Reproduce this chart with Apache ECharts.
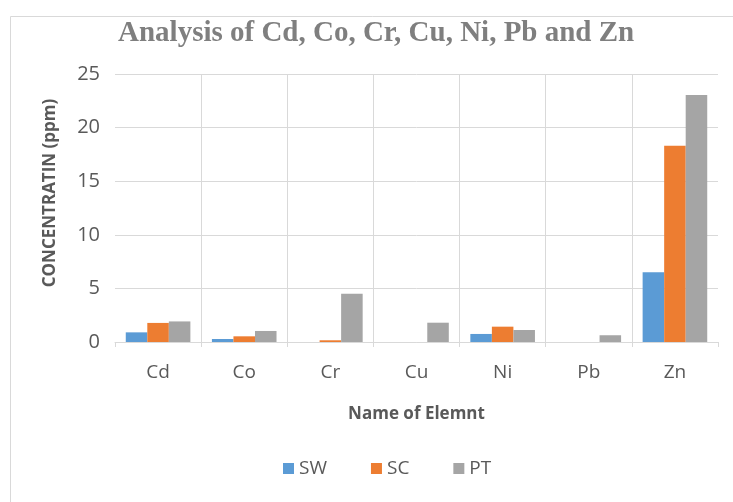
<!DOCTYPE html>
<html>
<head>
<meta charset="utf-8">
<script src="https://cdn.jsdelivr.net/npm/echarts@6/dist/echarts.min.js"></script>
<style>html,body{margin:0;padding:0;background:#fff}#c{width:733px;height:502px}</style>
</head>
<body>
<div id="c"></div>
<script>
const categories = ['Cd', 'Co', 'Cr', 'Cu', 'Ni', 'Pb', 'Zn'];
const sw = [0.9, 0.28, 0, 0, 0.75, 0, 6.5];
const sc = [1.78, 0.53, 0.16, 0, 1.43, 0, 18.3];
const pt = [1.92, 1.03, 4.5, 1.8, 1.12, 0.63, 23.05];
const yTicks = [0, 5, 10, 15, 20, 25];

const chart = echarts.init(document.getElementById('c'));
const labelFont = '"Open Sans", "Noto Sans", sans-serif';
const G = '#d9d9d9';
chart.setOption({
  animation: false,
  graphic: [{
    type: 'rect', left: 8, top: 14, shape: { width: 740, height: 500 },
    style: { fill: 'none', stroke: '#d9d9d9', lineWidth: 1 }, silent: true
  }],
  title: {
    text: 'Analysis of Cd, Co, Cr, Cu, Ni, Pb and Zn',
    left: 113, top: 14,
    textStyle: { fontFamily: '"Liberation Serif", serif', fontWeight: 'bold', fontSize: 29, color: '#7f7f7f' }
  },
  legend: {
    bottom: 19, left: 278, itemWidth: 11, itemHeight: 11, itemGap: 44,
    icon: 'rect',
    textStyle: { fontFamily: labelFont, fontSize: 19, color: '#595959' }
  },
  grid: { left: 115, right: 15, top: 74, bottom: 160, containLabel: false },
  xAxis: {
    type: 'category', data: categories,
    name: 'Name of Elemnt', nameLocation: 'middle', nameGap: 64,
    nameTextStyle: { fontFamily: labelFont, fontWeight: 'bold', fontSize: 17, color: '#595959' },
    axisLine: { lineStyle: { color: G } },
    axisTick: { show: true, length: 5, lineStyle: { color: G } },
    axisLabel: { fontFamily: labelFont, fontSize: 19, color: '#595959', margin: 21 },
    splitLine: { show: true, showMinLine: false, showMaxLine: false, lineStyle: { color: G } }
  },
  yAxis: {
    type: 'value', min: yTicks[0], max: yTicks[yTicks.length - 1], interval: 5,
    name: 'CONCENTRATIN (ppm)', nameLocation: 'middle', nameGap: 56,
    nameTextStyle: { fontFamily: labelFont, fontWeight: 'bold', fontSize: 17, color: '#595959', padding: [0, 0, 0, 30] },
    axisLine: { show: false }, axisTick: { show: false },
    axisLabel: { fontFamily: labelFont, fontSize: 20, color: '#595959', margin: 15 },
    splitLine: { lineStyle: { color: G } }
  },
  series: [
    { name: 'SW', type: 'bar', data: sw, itemStyle: { color: '#5b9bd5' }, barGap: '0%', barCategoryGap: '25%' },
    { name: 'SC', type: 'bar', data: sc, itemStyle: { color: '#ed7d31' }, barGap: '0%', barCategoryGap: '25%' },
    { name: 'PT', type: 'bar', data: pt, itemStyle: { color: '#a5a5a5' }, barGap: '0%', barCategoryGap: '25%' }
  ]
});
</script>
</body>
</html>
